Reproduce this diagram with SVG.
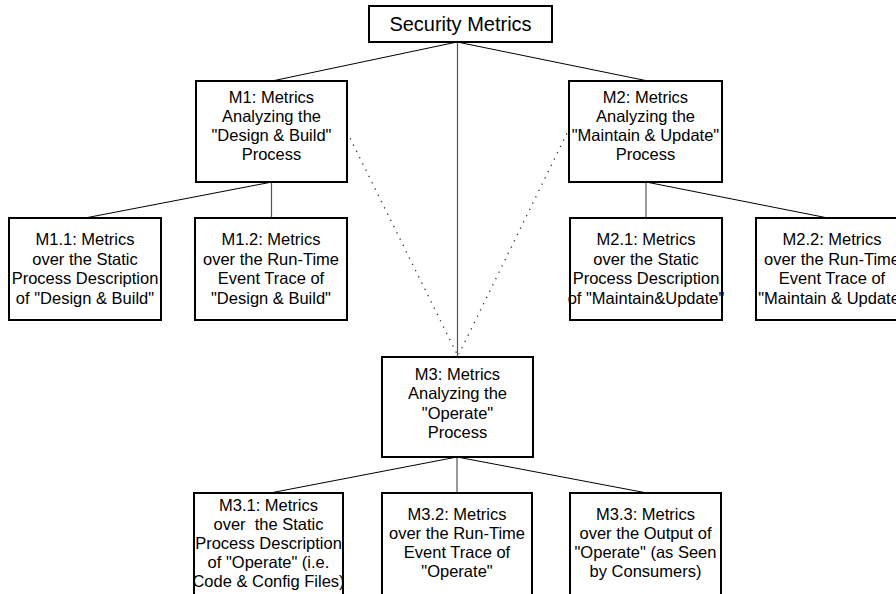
<svg xmlns="http://www.w3.org/2000/svg" width="896" height="594" viewBox="0 0 896 594">
<style>
.box{fill:#fff;stroke:#000;stroke-width:2}
.t{font-family:"Liberation Sans",Arial,sans-serif;font-size:16.5px;fill:#000;text-anchor:middle}
.title{font-size:20px}
.c{stroke:#000;stroke-width:1;fill:none}
.v{stroke:#555;stroke-width:1.2;fill:none}
.d{stroke:#333;stroke-width:1.3;fill:none;stroke-dasharray:1.3 5.7}
</style>
<rect width="896" height="594" fill="#fff"/>
<g id="connectors">
<line class="c" x1="457" y1="42" x2="272" y2="81"/>
<line class="c" x1="457" y1="42" x2="648" y2="81"/>
<line class="v" x1="457.5" y1="42" x2="457.5" y2="357"/>
<line class="c" x1="272" y1="182" x2="85" y2="218"/>
<line class="v" x1="271.5" y1="182" x2="271.5" y2="218"/>
<line class="v" x1="646" y1="182" x2="646" y2="218"/>
<line class="c" x1="646" y1="182" x2="828" y2="218"/>
<line class="c" x1="457" y1="457" x2="270" y2="493"/>
<line class="v" x1="457" y1="457" x2="457" y2="493"/>
<line class="c" x1="457" y1="457" x2="647" y2="493"/>
<line class="d" x1="347" y1="132" x2="457" y2="354"/>
<line class="d" x1="570" y1="127" x2="459" y2="354"/>
</g>
<g id="root">
<rect class="box" x="369" y="6" width="183" height="36"/>
<text class="t title" x="460.5" y="31">Security Metrics</text>
</g>
<g id="m1">
<rect class="box" x="196" y="81" width="151" height="101"/>
<text class="t" x="271.5"><tspan x="271.5" y="103">M1: Metrics</tspan><tspan x="271.5" y="122">Analyzing the</tspan><tspan x="271.5" y="141">"Design &amp; Build"</tspan><tspan x="271.5" y="160">Process</tspan></text>
</g>
<g id="m2">
<rect class="box" x="569" y="81" width="153" height="101"/>
<text class="t" x="645.5"><tspan x="645.5" y="103">M2: Metrics</tspan><tspan x="645.5" y="122">Analyzing the</tspan><tspan x="645.5" y="141">"Maintain &amp; Update"</tspan><tspan x="645.5" y="160">Process</tspan></text>
</g>
<g id="m1_1">
<rect class="box" x="9" y="218" width="152" height="102"/>
<text class="t" x="85"><tspan x="85" y="245">M1.1: Metrics</tspan><tspan x="85" y="264.5">over the Static</tspan><tspan x="85" y="284">Process Description</tspan><tspan x="85" y="303.5">of "Design &amp; Build"</tspan></text>
</g>
<g id="m1_2">
<rect class="box" x="195" y="218" width="152" height="102"/>
<text class="t" x="271"><tspan x="271" y="245">M1.2: Metrics</tspan><tspan x="271" y="264.5">over the Run-Time</tspan><tspan x="271" y="284">Event Trace of</tspan><tspan x="271" y="303.5">"Design &amp; Build"</tspan></text>
</g>
<g id="m2_1">
<rect class="box" x="570" y="218" width="152" height="102"/>
<text class="t" x="646"><tspan x="646" y="245">M2.1: Metrics</tspan><tspan x="646" y="264.5">over the Static</tspan><tspan x="646" y="284">Process Description</tspan><tspan x="646" y="303.5">of "Maintain&amp;Update"</tspan></text>
</g>
<g id="m2_2">
<rect class="box" x="756" y="218" width="152" height="102"/>
<text class="t" x="832"><tspan x="832" y="245">M2.2: Metrics</tspan><tspan x="832" y="264.5">over the Run-Time</tspan><tspan x="832" y="284">Event Trace of</tspan><tspan x="832" y="303.5">"Maintain &amp; Update"</tspan></text>
</g>
<g id="m3">
<rect class="box" x="382" y="357" width="151" height="100"/>
<text class="t" x="457.5"><tspan x="457.5" y="380">M3: Metrics</tspan><tspan x="457.5" y="399">Analyzing the</tspan><tspan x="457.5" y="419">"Operate"</tspan><tspan x="457.5" y="438">Process</tspan></text>
</g>
<g id="m3_1">
<rect class="box" x="194" y="493" width="149" height="104"/>
<text class="t" x="268.5" xml:space="preserve"><tspan x="268.5" y="511">M3.1: Metrics</tspan><tspan x="268.5" y="530">over  the Static</tspan><tspan x="268.5" y="549">Process Description</tspan><tspan x="268.5" y="568">of "Operate" (i.e.</tspan><tspan x="268.5" y="587">Code &amp; Config Files)</tspan></text>
</g>
<g id="m3_2">
<rect class="box" x="382" y="493" width="150" height="104"/>
<text class="t" x="457"><tspan x="457" y="520">M3.2: Metrics</tspan><tspan x="457" y="539">over the Run-Time</tspan><tspan x="457" y="558">Event Trace of</tspan><tspan x="457" y="577">"Operate"</tspan></text>
</g>
<g id="m3_3">
<rect class="box" x="570" y="493" width="151" height="104"/>
<text class="t" x="645.5"><tspan x="645.5" y="520">M3.3: Metrics</tspan><tspan x="645.5" y="539">over the Output of</tspan><tspan x="645.5" y="558">"Operate" (as Seen</tspan><tspan x="645.5" y="577">by Consumers)</tspan></text>
</g>
</svg>
